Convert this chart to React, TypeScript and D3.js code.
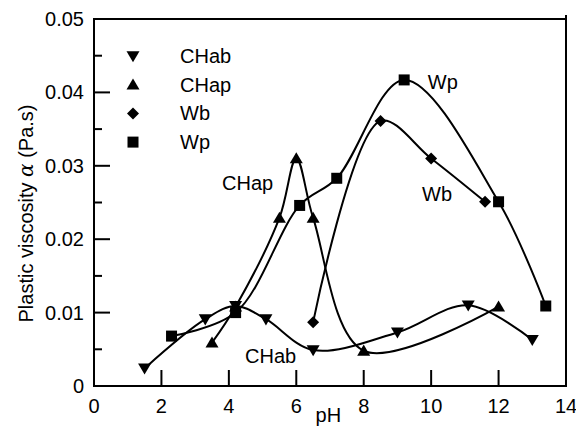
import React from "react";
import * as d3 from "d3";

const chabX = [1.5, 3.3, 4.2, 5.1, 6.5, 9.0, 11.1, 13.0];
const chabY = [0.0024, 0.0091, 0.0109, 0.0091, 0.0049, 0.0073, 0.0110, 0.0063];
const chapX = [3.5, 4.2, 5.5, 6.0, 6.5, 8.0, 12.0];
const chapY = [0.0059, 0.0108, 0.0229, 0.0310, 0.0229, 0.0048, 0.0108];
const wbX = [6.5, 8.5, 10.0, 11.6];
const wbY = [0.0087, 0.0361, 0.0310, 0.0251];
const wpX = [2.3, 4.2, 6.1, 7.2, 9.2, 12.0, 13.4];
const wpY = [0.0068, 0.0100, 0.0246, 0.0283, 0.0417, 0.0251, 0.0109];

const xTicks = [0, 2, 4, 6, 8, 10, 12, 14];
const yTicks = [0, 0.01, 0.02, 0.03, 0.04, 0.05];
const yMinor = [0.005, 0.015, 0.025, 0.035, 0.045];
const legendNames = ["CHab", "CHap", "Wb", "Wp"];
const legendShapes = ["down", "up", "diamond", "square"];

const W = 576, H = 432;
const left = 94, right = 566, top = 19, bottom = 386;
const FONT = "Liberation Sans, Arial, Helvetica, sans-serif";

function marker(shape: string, cx: number, cy: number, key: string) {
  if (shape === "down") {
    const s = 6.5;
    return <path key={key} d={`M${cx - s},${cy - s * 0.75}L${cx + s},${cy - s * 0.75}L${cx},${cy + s * 0.95}Z`} fill="#000" />;
  }
  if (shape === "up") {
    const s = 6.5;
    return <path key={key} d={`M${cx - s},${cy + s * 0.75}L${cx + s},${cy + s * 0.75}L${cx},${cy - s * 0.95}Z`} fill="#000" />;
  }
  if (shape === "diamond") {
    const s = 6;
    return <path key={key} d={`M${cx},${cy - s}L${cx + s},${cy}L${cx},${cy + s}L${cx - s},${cy}Z`} fill="#000" />;
  }
  const s = 5.5;
  return <rect key={key} x={cx - s} y={cy - s} width={2 * s} height={2 * s} fill="#000" />;
}

export default function App() {
  const x = d3.scaleLinear().domain([0, 14]).range([left, right]);
  const y = d3.scaleLinear().domain([0, 0.05]).range([bottom, top]);
  const line = d3
    .line<[number, number]>()
    .x((d) => x(d[0]))
    .y((d) => y(d[1]))
    .curve(d3.curveCatmullRom.alpha(0.5));

  const series = [
    { xs: chabX, ys: chabY, shape: "down" },
    { xs: chapX, ys: chapY, shape: "up" },
    { xs: wbX, ys: wbY, shape: "diamond" },
    { xs: wpX, ys: wpY, shape: "square" },
  ];

  return (
    <svg width={W} height={H} style={{ position: "absolute", left: 0, top: 0, background: "#fff" }} fontFamily={FONT}>
      <rect x={0} y={0} width={W} height={H} fill="#fff" />
      {series.map((s, i) => (
        <path
          key={"l" + i}
          d={line(s.xs.map((v, j) => [v, s.ys[j]] as [number, number])) || ""}
          fill="none"
          stroke="#000"
          strokeWidth={2}
        />
      ))}
      {series.map((s, i) => s.xs.map((v, j) => marker(s.shape, x(v), y(s.ys[j]), `m${i}-${j}`)))}
      {/* frame */}
      <rect x={left} y={top} width={right - left} height={bottom - top} fill="none" stroke="#000" strokeWidth={2} />
      <line x1={right} x2={right} y1={top - 4} y2={top} stroke="#000" strokeWidth={2} />
      {yTicks.map((t) => (
        <g key={"yt" + t}>
          <line x1={left} x2={left + 16} y1={y(t)} y2={y(t)} stroke="#000" strokeWidth={2} />
          <text x={left - 10} y={y(t) + 7} fontSize={20} textAnchor="end">
            {t === 0 ? "0" : t.toFixed(2)}
          </text>
        </g>
      ))}
      {yMinor.map((t) => (
        <line key={"ym" + t} x1={left} x2={left + 8} y1={y(t)} y2={y(t)} stroke="#000" strokeWidth={2} />
      ))}
      {xTicks.map((t) => (
        <g key={"xt" + t}>
          <line x1={x(t)} x2={x(t)} y1={bottom} y2={bottom - 16} stroke="#000" strokeWidth={2} />
          <text x={x(t)} y={bottom + 27} fontSize={20} textAnchor="middle">
            {t}
          </text>
        </g>
      ))}
      <text x={x(6.95)} y={bottom + 36} fontSize={20} textAnchor="middle">pH</text>
      <text transform={`translate(33,${(top + bottom) / 2 + 11}) rotate(-90)`} fontSize={20} textAnchor="middle">
        Plastic viscosity <tspan fontFamily="DejaVu Serif, serif" fontStyle="italic">α</tspan> (Pa.s)
      </text>
      {/* legend */}
      {legendNames.map((n, i) => (
        <g key={"lg" + i}>
          {marker(legendShapes[i], 133, 56 + i * 28.7, "lm" + i)}
          <text x={180} y={56 + i * 28.7 + 7} fontSize={20}>{n}</text>
        </g>
      ))}
      {/* annotations */}
      <text x={x(3.8)} y={y(0.0267)} fontSize={20}>CHap</text>
      <text x={x(9.9)} y={y(0.0404)} fontSize={20}>Wp</text>
      <text x={x(9.73)} y={y(0.0252)} fontSize={20}>Wb</text>
      <text x={x(4.48)} y={y(0.0031)} fontSize={20}>CHab</text>
    </svg>
  );
}
